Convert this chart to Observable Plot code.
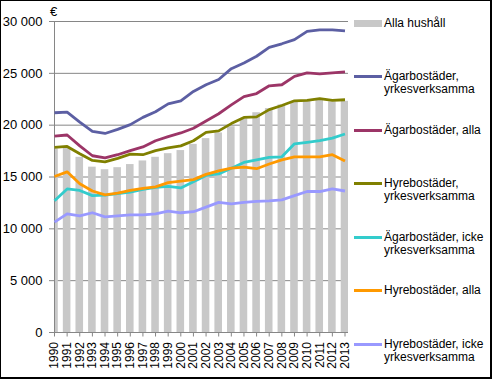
<!DOCTYPE html>
<html>
<head>
<meta charset="utf-8">
<script src="https://cdn.jsdelivr.net/npm/d3@7"></script>
<script src="https://cdn.jsdelivr.net/npm/@observablehq/plot@0.6"></script>
<style>
  html, body { margin: 0; padding: 0; background: #fff; }
  #wrap { position: relative; width: 492px; height: 379px; overflow: hidden; font-family: "Liberation Sans", Arial, sans-serif; }
  #wrap svg { position: absolute; left: 0; top: 0; }
  #border { position: absolute; left: 0; top: 0; width: 492px; height: 379px; box-sizing: border-box; border-style: solid; border-color: #000; border-width: 1px 2px 2px 1px; pointer-events: none; }
  #unit { position: absolute; left: 50px; top: 4px; font-size: 13px; line-height: 15px; color: #000; }
  .entry { position: absolute; left: 354px; width: 136px; }
  .sw { position: absolute; left: 0; width: 28px; }
  .lbl { position: absolute; left: 30px; top: 0; width: 106px; font-size: 12px; line-height: 13px; color: #000; }
</style>
</head>
<body>
<div id="wrap"></div>
<script>
const years = [1990,1991,1992,1993,1994,1995,1996,1997,1998,1999,2000,2001,2002,2003,2004,2005,2006,2007,2008,2009,2010,2011,2012,2013];

const allaHushall = [17700,17850,16900,15950,15700,15900,16200,16550,16900,17250,17550,18150,18700,19250,19850,20600,21200,21600,21950,22250,22300,22400,22250,22300];

const agarYrk  = [21200,21250,20300,19400,19200,19600,20050,20750,21300,22050,22350,23250,23900,24400,25450,26000,26650,27500,27850,28250,29050,29200,29200,29100];
const agarAlla = [18950,19050,18000,17050,16850,17150,17550,17900,18500,18900,19250,19700,20400,21100,21950,22750,23050,23800,23900,24700,25050,24950,25050,25150];
const hyreYrk  = [17850,17950,17250,16600,16450,16800,17200,17150,17550,17800,18000,18500,19300,19450,20150,20750,20800,21500,21900,22350,22400,22550,22400,22450];
const agarIcke = [12700,13850,13700,13200,13250,13400,13550,13800,14000,14100,13950,14550,15150,15300,15850,16400,16650,16900,16950,18200,18350,18500,18750,19150];
const hyreAlla = [15050,15500,14350,13650,13280,13440,13700,13900,14050,14450,14600,14750,15250,15600,15850,15950,15800,16250,16650,16950,16950,16950,17150,16550];
const hyreIcke = [10650,11450,11250,11550,11150,11250,11350,11350,11450,11700,11550,11650,12100,12550,12400,12550,12650,12700,12800,13200,13600,13600,13850,13650];

const barName = "Alla hushåll";
const barColor = "#c8c8c8";
const lineNames = [
  "Ägarbostäder, yrkesverksamma",
  "Ägarbostäder, alla",
  "Hyrebostäder, yrkesverksamma",
  "Ägarbostäder, icke yrkesverksamma",
  "Hyrebostäder, alla",
  "Hyrebostäder, icke yrkesverksamma"
];
const lineColors = ["#5c5fa3", "#9c3567", "#808000", "#33cccc", "#ff9900", "#9999ff"];
const lineValues = [agarYrk, agarAlla, hyreYrk, agarIcke, hyreAlla, hyreIcke];

const yTicks = [0, 5000, 10000, 15000, 20000, 25000, 30000];
const unitLabel = "€";

// build tables
const bars = years.map((y, i) => ({year: y, value: allaHushall[i]}));
const lines = lineNames.flatMap((n, k) => years.map((y, i) => ({year: y, value: lineValues[k][i], series: n})));

const fmt = d => d3.format(",")(d).replace(/,/g, " ");
const gridColor = "#868686";

const chart = Plot.plot({
  width: 492,
  height: 379,
  marginLeft: 54,
  marginRight: 144,
  marginTop: 21,
  marginBottom: 47,
  style: {fontFamily: "'Liberation Sans', Arial, sans-serif", fontSize: "13px", background: "transparent", color: "#000"},
  x: {domain: [years[0], years[years.length - 1]], insetRight: 3.5},
  y: {domain: [0, 30000]},
  color: {domain: lineNames, range: lineColors},
  marks: [
    Plot.gridY(yTicks, {stroke: gridColor, strokeOpacity: 1, strokeWidth: 1}),
    Plot.rectY(bars, {x1: d => d.year - 0.3, x2: d => d.year + 0.3, y1: 0, y2: "value", fill: barColor, clip: true}),
    Plot.ruleX([years[0]], {stroke: gridColor}),
    Plot.ruleY([0], {stroke: gridColor}),
    Plot.line(lines, {x: "year", y: "value", z: "series", stroke: "series", strokeWidth: 2.8, strokeLinejoin: "round", strokeLinecap: "butt"}),
    Plot.axisY({ticks: yTicks, tickFormat: fmt, tickSize: 5, tickPadding: 7, stroke: gridColor, fill: "#000", label: null, fontSize: 13}),
    Plot.axisX({ticks: years, tickFormat: d => String(d), tickRotate: -90, tickSize: 4.5, tickPadding: 5, stroke: gridColor, fill: "#000", label: null, fontSize: 12})
  ]
});

const wrap = document.getElementById("wrap");
wrap.appendChild(chart);

const unit = document.createElement("div");
unit.id = "unit";
unit.textContent = unitLabel;
wrap.appendChild(unit);

// legend
const legendItems = [{name: barName, color: barColor, bar: true}].concat(lineNames.map((n, k) => ({name: n, color: lineColors[k], bar: false})));
legendItems.forEach((it, i) => {
  const cy = 23.3 + 53.45 * i;
  const e = document.createElement("div");
  e.className = "entry";
  e.style.top = (cy - 6.5) + "px";
  const sw = document.createElement("div");
  sw.className = "sw";
  const th = it.bar ? 7 : 3;
  sw.style.height = th + "px";
  sw.style.top = (6.5 - th / 2) + "px";
  sw.style.background = it.color;
  const lb = document.createElement("div");
  lb.className = "lbl";
  lb.textContent = it.name;
  e.appendChild(sw);
  e.appendChild(lb);
  wrap.appendChild(e);
});

const border = document.createElement("div");
border.id = "border";
wrap.appendChild(border);
</script>
</body>
</html>
